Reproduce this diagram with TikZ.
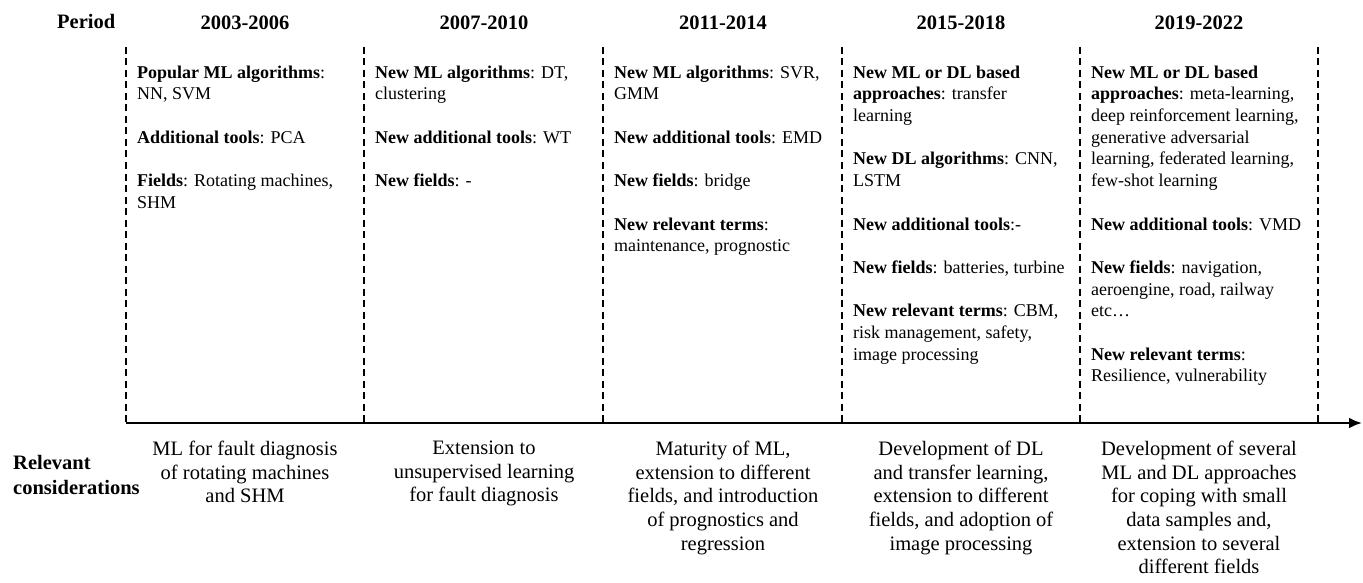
\documentclass[tikz,border=0pt]{standalone}
\usepackage{fontspec}
\setmainfont{Liberation Serif}
\usetikzlibrary{arrows.meta}
\begin{document}
\begin{tikzpicture}[x=1pt,y=-1pt,
  sep/.style={line width=2.7pt,dash pattern=on 7pt off 4.5pt},
  axis/.style={line width=2.8pt,-{Latex[length=13pt,width=11pt]}},
  head/.style={inner sep=0pt,font=\fontsize{20.5}{24}\selectfont\bfseries,anchor=base},
  col/.style={inner sep=0pt,anchor=north west,align=left,font=\fontsize{18}{21.7}\selectfont},
  cons/.style={inner sep=0pt,anchor=north,align=center,font=\fontsize{20.5}{23.6}\selectfont}]
\useasboundingbox (0,0) rectangle (1363,583);
% headings
\node[head,anchor=base west] (period) at (57,29) {Period};
\node[head] (h1) at (245,30) {2003-2006};
\node[head] (h2) at (484,30) {2007-2010};
\node[head] (h3) at (723,30) {2011-2014};
\node[head] (h4) at (961,30) {2015-2018};
\node[head] (h5) at (1199,30) {2019-2022};
% separators
\foreach \i/\x in {0/126,1/364,2/603,3/842,4/1080,5/1318}{
  \coordinate (t\i) at (\x,47);
  \coordinate (b\i) at (\x,423);
  \draw[sep] (t\i) -- (b\i);
}
\coordinate (axisend) at (1362,423);
\draw[axis] (b0) -- (axisend);
% column texts
\node[col] (c1) at (137,65.5) {\textbf{Popular ML algorithms}:\\ NN, SVM\\[21.7pt]
\textbf{Additional tools}: PCA\\[21.7pt]
\textbf{Fields}: Rotating machines,\\ SHM};
\node[col] (c2) at (375,65.5) {\textbf{New ML algorithms}: DT,\\ clustering\\[21.7pt]
\textbf{New additional tools}: WT\\[21.7pt]
\textbf{New fields}: -};
\node[col] (c3) at (614,65.5) {\textbf{New ML algorithms}: SVR,\\ GMM\\[21.7pt]
\textbf{New additional tools}: EMD\\[21.7pt]
\textbf{New fields}: bridge\\[21.7pt]
\textbf{New relevant terms}:\\ maintenance, prognostic};
\node[col] (c4) at (853,65.5) {\textbf{New ML or DL based}\\ \textbf{approaches}: transfer\\ learning\\[21.7pt]
\textbf{New DL algorithms}: CNN,\\ LSTM\\[21.7pt]
\textbf{New additional tools}:-\\[21.7pt]
\textbf{New fields}: batteries, turbine\\[21.7pt]
\textbf{New relevant terms}: CBM,\\ risk management, safety,\\ image processing};
\node[col] (c5) at (1091,65.5) {\textbf{New ML or DL based}\\ \textbf{approaches}: meta-learning,\\ deep reinforcement learning,\\ generative adversarial\\ learning, federated learning,\\ few-shot learning\\[21.7pt]
\textbf{New additional tools}: VMD\\[21.7pt]
\textbf{New fields}: navigation,\\ aeroengine, road, railway\\ etc\ldots\\[21.7pt]
\textbf{New relevant terms}:\\ Resilience, vulnerability};
% relevant considerations
\node[inner sep=0pt,anchor=north west,align=left,font=\fontsize{20.5}{25}\selectfont\bfseries] (rel) at (13,455) {Relevant\\ considerations};
\node[cons] (r1) at (245,441) {ML for fault diagnosis\\ of rotating machines\\ and SHM};
\node[cons] (r2) at (484,441) {Extension to\\ unsupervised learning\\ for fault diagnosis};
\node[cons] (r3) at (723,441) {Maturity of ML,\\ extension to different\\ fields, and introduction\\ of prognostics and\\ regression};
\node[cons] (r4) at (961,441) {Development of DL\\ and transfer learning,\\ extension to different\\ fields, and adoption of\\ image processing};
\node[cons] (r5) at (1199,441) {Development of several\\ ML and DL approaches\\ for coping with small\\ data samples and,\\ extension to several\\ different fields};
\end{tikzpicture}
\end{document}
